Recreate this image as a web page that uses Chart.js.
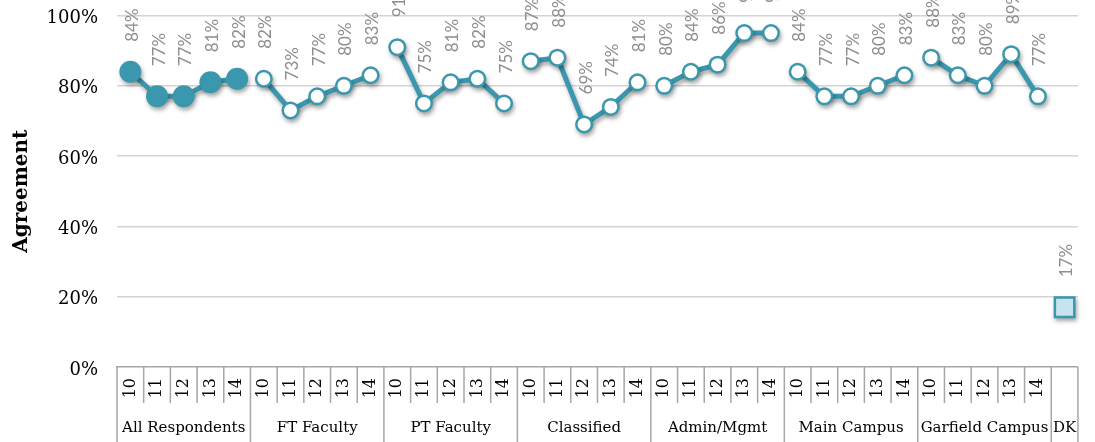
<!DOCTYPE html>
<html>
<head>
<meta charset="utf-8">
<script src="https://cdn.jsdelivr.net/npm/chart.js@4/dist/chart.umd.min.js"></script>
<style>
  html, body { margin: 0; padding: 0; background: #ffffff; }
  #wrap { width: 1095px; height: 442px; position: relative; }
</style>
</head>
<body>
<div id="wrap"><canvas id="agreement-chart"></canvas></div>
<script>
// Survey agreement by group and year
const years = ["10", "11", "12", "13", "14"];
const groupNames = ["All Respondents", "FT Faculty", "PT Faculty", "Classified", "Admin/Mgmt", "Main Campus", "Garfield Campus"];
const dkName = "DK";

const allRespondents = [84, 77, 77, 81, 82];
const ftFaculty = [82, 73, 77, 80, 83];
const ptFaculty = [91, 75, 81, 82, 75];
const classified = [87, 88, 69, 74, 81];
const adminMgmt = [80, 84, 86, 95, 95];
const mainCampus = [84, 77, 77, 80, 83];
const garfieldCampus = [88, 83, 80, 89, 77];
const dontKnow = [17];

const yTicks = [0, 20, 40, 60, 80, 100];

const TEAL = "#3a97ad";
const SERIF = "'DejaVu Serif', serif";

// Build the category labels for both axis rows
const yearLabels = [];
const groupLabels = [];
groupNames.forEach(name => {
  years.forEach((yr, i) => {
    yearLabels.push(yr);
    groupLabels.push(i === 2 ? name : "");
  });
});
yearLabels.push("");
groupLabels.push(dkName);

const totalCols = yearLabels.length;

// Put a group's values into its own slots, null everywhere else (so lines break between groups)
function placeSeries(values, start) {
  const arr = new Array(totalCols).fill(null);
  values.forEach((v, i) => { arr[start + i] = v; });
  return arr;
}

const groupSeries = [allRespondents, ftFaculty, ptFaculty, classified, adminMgmt, mainCampus, garfieldCampus];

const datasets = [];
groupSeries.forEach((vals, g) => {
  const data = placeSeries(vals, g * years.length);
  // teal line + teal discs (with shadow)
  datasets.push({
    label: groupNames[g],
    data: data,
    borderColor: TEAL,
    borderWidth: 5,
    pointBackgroundColor: TEAL,
    pointBorderWidth: 0,
    pointRadius: g === 0 ? 11 : 9,
    spanGaps: false,
    tension: 0,
    order: 1,
    shadow: true,
    valueLabels: true
  });
  // white centres for the hollow markers
  if (g > 0) {
    datasets.push({
      label: groupNames[g] + " centre",
      data: data,
      showLine: false,
      pointBackgroundColor: "#ffffff",
      pointBorderWidth: 0,
      pointRadius: 6.5,
      order: 0
    });
  }
});

const dkData = placeSeries(dontKnow, groupNames.length * years.length);
datasets.push({
  label: dkName,
  data: dkData,
  showLine: false,
  pointStyle: "rect",
  pointBackgroundColor: TEAL,
  pointBorderWidth: 0,
  pointRadius: 15.5,
  order: 1,
  shadow: true,
  valueLabels: true
});
datasets.push({
  label: dkName + " fill",
  data: dkData,
  showLine: false,
  pointStyle: "rect",
  pointBackgroundColor: "#c6e4ee",
  pointBorderWidth: 0,
  pointRadius: 12,
  order: 0
});

// Drop shadow under lines/markers + value labels above each point
const markerPlugin = {
  id: "markers",
  beforeDatasetDraw(chart, args) {
    if (!chart.data.datasets[args.index].shadow) return;
    const ctx = chart.ctx;
    ctx.save();
    ctx.shadowColor = "rgba(0, 0, 0, 0.35)";
    ctx.shadowBlur = 4;
    ctx.shadowOffsetX = 1.5;
    ctx.shadowOffsetY = 3;
  },
  afterDatasetDraw(chart, args) {
    if (!chart.data.datasets[args.index].shadow) return;
    chart.ctx.restore();
  },
  afterDatasetsDraw(chart) {
    const ctx = chart.ctx;
    ctx.save();
    ctx.fillStyle = "#8e8e8e";
    ctx.font = "17px Lato, 'Open Sans', sans-serif";
    ctx.textAlign = "left";
    ctx.textBaseline = "middle";
    chart.data.datasets.forEach((ds, di) => {
      if (!ds.valueLabels) return;
      const meta = chart.getDatasetMeta(di);
      meta.data.forEach((pt, i) => {
        const v = ds.data[i];
        if (v === null || v === undefined) return;
        ctx.save();
        ctx.translate(pt.x + 2, pt.y - 30);
        ctx.rotate(-Math.PI / 2);
        ctx.fillText(v + "%", 0, 0);
        ctx.restore();
      });
    });
    ctx.restore();
  }
};

// Table-style separators under the plot (year cells and group cells)
const tablePlugin = {
  id: "categoryTable",
  afterDraw(chart) {
    const x = chart.scales.x;
    const x2 = chart.scales.x2;
    const ctx = chart.ctx;
    const half = (x.getPixelForTick(1) - x.getPixelForTick(0)) / 2;
    ctx.save();
    ctx.strokeStyle = "#a6a6a6";
    ctx.lineWidth = 1.5;
    for (let i = 0; i <= totalCols; i++) {
      const px = i < totalCols ? x.getPixelForTick(i) - half : x.getPixelForTick(totalCols - 1) + half;
      const isGroupEdge = i % years.length === 0 || i >= totalCols - 1;
      ctx.beginPath();
      ctx.moveTo(px, x.top);
      ctx.lineTo(px, isGroupEdge ? x2.bottom : x.bottom);
      ctx.stroke();
    }
    ctx.restore();
  }
};

new Chart(document.getElementById("agreement-chart"), {
  type: "line",
  data: {
    labels: yearLabels,
    datasets: datasets
  },
  options: {
    responsive: true,
    maintainAspectRatio: false,
    animation: false,
    events: [],
    layout: {
      padding: { top: 14, right: 14, left: 0, bottom: 0 }
    },
    plugins: {
      legend: { display: false },
      tooltip: { enabled: false }
    },
    scales: {
      x: {
        type: "category",
        position: "bottom",
        offset: true,
        weight: 0,
        grid: { display: false, drawTicks: false },
        border: { display: true, color: "#a6a6a6", width: 1.5 },
        ticks: {
          autoSkip: false,
          minRotation: 90,
          maxRotation: 90,
          padding: 11,
          color: "#000000",
          font: { family: SERIF, size: 16 }
        },
        afterFit(scale) { scale.height = 36; }
      },
      x2: {
        type: "category",
        position: "bottom",
        labels: groupLabels,
        offset: true,
        weight: 1,
        grid: { display: false, drawTicks: false },
        border: { display: false },
        ticks: {
          autoSkip: false,
          minRotation: 0,
          maxRotation: 0,
          padding: 16,
          color: "#000000",
          font: { family: SERIF, size: 15 }
        },
        afterFit(scale) { scale.height = 39; }
      },
      y: {
        min: 0,
        max: 100,
        afterBuildTicks(scale) {
          scale.ticks = yTicks.map(v => ({ value: v }));
        },
        grid: {
          drawTicks: true,
          tickLength: 19,
          tickColor: "rgba(0,0,0,0)",
          lineWidth: 1.5,
          color: (c) => c.tick && c.tick.value === 0 ? "rgba(0,0,0,0)" : "#d4d4d4"
        },
        border: { display: false },
        ticks: {
          padding: 0,
          labelOffset: 3,
          color: "#000000",
          font: { family: SERIF, size: 18 },
          callback: (v) => v + "%"
        },
        title: {
          display: true,
          text: "Agreement",
          color: "#000000",
          font: { family: SERIF, size: 20, weight: "bold" },
          padding: { top: 10, bottom: 0 }
        },
        afterFit(scale) { scale.width = 117; }
      }
    }
  },
  plugins: [markerPlugin, tablePlugin]
});
</script>
</body>
</html>
